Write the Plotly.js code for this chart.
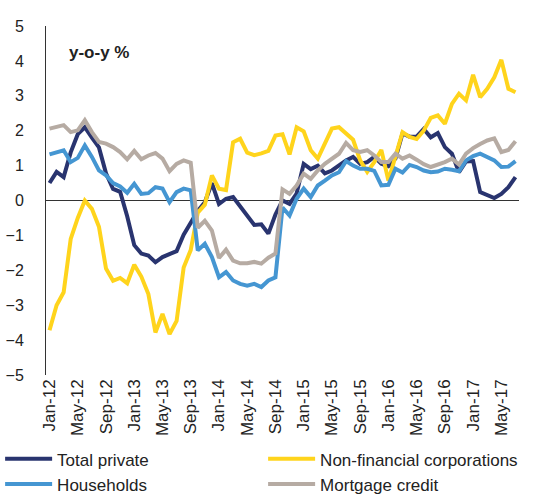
<!DOCTYPE html>
<html>
<head>
<meta charset="utf-8">
<script src="https://cdn.plot.ly/plotly-3.0.1.min.js"></script>
<style>
  html, body { margin: 0; padding: 0; background: #fff; }
  #chart { width: 544px; height: 494px; }
</style>
</head>
<body>
<div id="chart"></div>
<script>
// months Jan-12 .. Jul-17
const monthNames = ["Jan", "Feb", "Mar", "Apr", "May", "Jun", "Jul", "Aug", "Sep", "Oct", "Nov", "Dec"];
const months = [];
for (let yr = 12; yr <= 17; yr++) {
  for (let m = 0; m < 12; m++) {
    if (yr === 17 && m > 6) break;
    months.push(monthNames[m] + "-" + yr);
  }
}
const tickLabels = months.filter((d, i) => i % 4 === 0);

// y-o-y %
const totalPrivate = [
  0.5, 0.82, 0.67, 1.38, 1.9, 2.1, 1.8, 1.52, 0.78, 0.33, 0.25, -0.45,
  -1.28, -1.52, -1.58, -1.77, -1.62, -1.53, -1.45, -0.98, -0.62, -0.3, -0.05, 0.5,
  -0.1, 0.05, 0.1, -0.18, -0.45, -0.7, -0.68, -0.95, -0.4, 0.0, -0.1, 0.2,
  1.05, 0.9, 1.0, 0.78, 0.86, 1.0, 1.15, 1.25, 1.05, 1.1, 1.25, 1.05,
  0.98, 1.2, 1.92, 1.83, 1.83, 2.05, 1.81, 1.93, 1.53, 1.34, 0.81, 1.12,
  1.13, 0.24, 0.14, 0.07, 0.19, 0.38, 0.67
];
const nonFinancial = [
  -3.72, -3.0, -2.63, -1.1, -0.5, 0.0, -0.24, -0.75, -1.95, -2.3, -2.22, -2.37,
  -1.84, -2.18, -2.68, -3.78, -3.25, -3.83, -3.45, -1.92, -1.42, -0.35, -0.12, 0.72,
  0.34, 0.3, 1.67, 1.77, 1.37, 1.3, 1.35, 1.42, 1.86, 1.9, 1.32, 2.1,
  1.98, 1.44, 1.2, 1.61, 2.06, 2.1, 1.92, 1.74, 1.15, 0.82, 1.1, 1.45,
  0.57, 1.25, 1.96, 1.82, 1.76, 2.0, 2.37, 2.44, 2.2, 2.77, 3.06, 2.87,
  3.6, 2.96, 3.2, 3.53, 4.03, 3.2, 3.1
];
const households = [
  1.32, 1.39, 1.44, 1.1, 1.22, 1.58, 1.25, 0.86, 0.72, 0.5, 0.4, 0.22,
  0.48, 0.19, 0.21, 0.38, 0.34, -0.05, 0.24, 0.34, 0.29, -1.43, -1.24, -1.62,
  -2.2, -2.05, -2.29, -2.39, -2.44, -2.39, -2.48, -2.29, -2.2, -0.2, -0.43, 0.05,
  0.34, 0.1, 0.43, 0.57, 0.72, 0.81, 1.13, 1.0, 0.91, 0.91, 0.85, 0.43,
  0.45, 0.91, 0.8, 1.02, 0.96, 0.86, 0.81, 0.83, 0.91, 0.88, 0.84, 1.15,
  1.27, 1.34, 1.26, 1.15, 0.96, 0.97, 1.13
];
const mortgage = [
  2.06, 2.11, 2.16, 1.96, 2.01, 2.3, 1.96, 1.68, 1.63, 1.53, 1.39, 1.18,
  1.42, 1.18, 1.29, 1.36, 1.2, 0.84, 1.05, 1.15, 1.08, -0.78, -0.58, -0.86,
  -1.65, -1.41, -1.72, -1.8, -1.8, -1.76, -1.81, -1.64, -1.52, 0.32, 0.19, 0.43,
  0.77, 0.62, 0.86, 1.05, 1.2, 1.34, 1.65, 1.44, 1.39, 1.44, 1.29, 1.1,
  1.1, 1.34, 1.2, 1.29, 1.17, 1.04, 0.96, 1.02, 1.1, 1.2, 1.03, 1.34,
  1.5, 1.62, 1.72, 1.78, 1.39, 1.45, 1.7
];

const seriesNames = ["Total private", "Non-financial corporations", "Households", "Mortgage credit"];
const seriesData = [totalPrivate, nonFinancial, households, mortgage];
const seriesColors = ["#29346f", "#ffd41c", "#4596d2", "#b6aba3"];
// left legend column gets Total private + Households, right column the other two
const seriesLegend = ["legend", "legend2", "legend", "legend2"];

const traces = seriesData.map((vals, i) => ({
  x: months,
  y: vals,
  name: seriesNames[i],
  type: "scatter",
  mode: "lines",
  legend: seriesLegend[i],
  line: { color: seriesColors[i], width: 4 }
}));

const legendBase = {
  orientation: "v",
  xanchor: "left",
  y: -0.19,
  yanchor: "top",
  itemwidth: 47,
  tracegroupgap: 0,
  font: { size: 17, color: "#222" },
  bgcolor: "rgba(0,0,0,0)"
};

const layout = {
  width: 544,
  height: 494,
  margin: { l: 46, r: 25, t: 26, b: 119, autoexpand: false },
  paper_bgcolor: "#fff",
  plot_bgcolor: "#fff",
  font: { family: "Liberation Sans, Arial, sans-serif", color: "#222" },
  showlegend: true,
  xaxis: {
    type: "category",
    categoryorder: "array",
    categoryarray: months,
    range: [-0.5, months.length - 0.5],
    tickmode: "array",
    tickvals: tickLabels,
    ticktext: tickLabels,
    tickangle: -90,
    tickfont: { size: 17, color: "#222" },
    showgrid: false,
    showline: false,
    zeroline: false,
    ticks: ""
  },
  yaxis: {
    range: [-5, 5],
    dtick: 1,
    showgrid: false,
    showline: true,
    linecolor: "#333",
    linewidth: 1,
    zeroline: true,
    zerolinecolor: "#333",
    zerolinewidth: 1,
    ticks: "",
    ticklabelstandoff: 18,
    tickfont: { size: 16, color: "#222" }
  },
  legend: Object.assign({}, legendBase, { x: -0.097 }),
  legend2: Object.assign({}, legendBase, { x: 0.459 }),
  annotations: [{
    text: "<b>y-o-y %</b>",
    xref: "paper", yref: "paper",
    x: 0.044, y: 0.925,
    xanchor: "left", yanchor: "middle",
    showarrow: false,
    font: { size: 17, color: "#222" }
  }]
};

Plotly.newPlot("chart", traces, layout, { displayModeBar: false, staticPlot: true });
</script>
</body>
</html>
